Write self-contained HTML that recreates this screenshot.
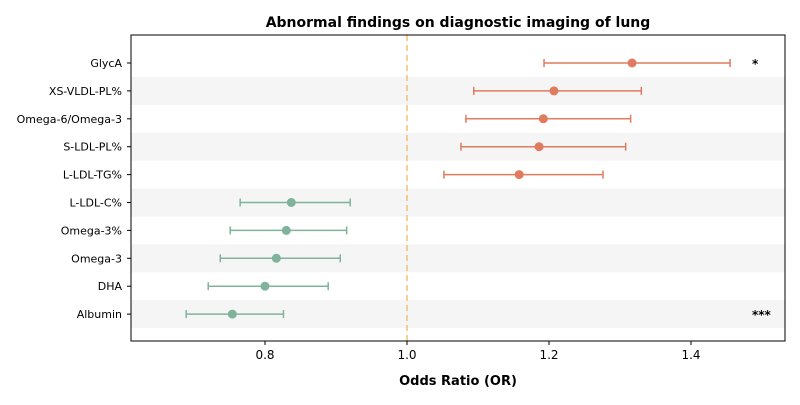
<!DOCTYPE html>
<html><head><meta charset="utf-8"><style>
body{margin:0;background:#fff;font-family:"Liberation Sans","DejaVu Sans",sans-serif}
svg text{font-family:"DejaVu Sans","Liberation Sans",sans-serif}
</style></head><body>
<svg id="c" width="800" height="400" xmlns="http://www.w3.org/2000/svg"></svg>
<script>
const labels=["GlycA","XS-VLDL-PL%","Omega-6/Omega-3","S-LDL-PL%","L-LDL-TG%","L-LDL-C%","Omega-3%","Omega-3","DHA","Albumin"];
const orVals=[1.317,1.207,1.192,1.186,1.158,0.837,0.830,0.816,0.800,0.754];
const ciLow=[1.193,1.094,1.083,1.076,1.052,0.765,0.751,0.737,0.720,0.689];
const ciHigh=[1.455,1.330,1.315,1.308,1.276,0.920,0.915,0.906,0.889,0.826];
const sig=["*","","","","","","","","","***"];
const xTicks=[0.8,1.0,1.2,1.4];
const L=131,R=785,T=35,B=341;
const x=v=>407+(v-1)*710;
const y=i=>63+i*27.9;
const s=document.getElementById('c');
const NS="http://www.w3.org/2000/svg";
function mk(t,a,txt){const e=document.createElementNS(NS,t);for(const k in a)e.setAttribute(k,a[k]);if(txt!==undefined)e.textContent=txt;s.appendChild(e);return e;}
let e;
labels.forEach((l,i)=>{if(i%2===1){e=mk('rect',{x:L,y:y(i)-14,width:R-L,height:28,fill:'#f5f5f5'});

}});
e=mk('line',{x1:x(1),x2:x(1),y1:T,y2:B,stroke:'#f5c06e','stroke-width':1.5,'stroke-dasharray':'6,4'});


labels.forEach((l,i)=>{
 const c=orVals[i]>1?'#e07b5f':'#7fb39b';const yy=y(i);
 e=mk('line',{x1:x(ciLow[i]),x2:x(ciHigh[i]),y1:yy,y2:yy,stroke:c,'stroke-width':1.5});
 
 
 [ciLow[i],ciHigh[i]].forEach(v=>{e=mk('line',{x1:x(v),x2:x(v),y1:yy-4,y2:yy+4,stroke:c,'stroke-width':1.5});
 
 });
 e=mk('circle',{cx:x(orVals[i]),cy:yy,r:4.5,fill:c});
 
 
 e=mk('text',{x:L-9,y:yy+4,'text-anchor':'end','font-size':11,fill:'#000'},l);
 
 
 mk('line',{x1:L-4,x2:L,y1:yy,y2:yy,stroke:'#000'});
 if(sig[i]){e=mk('text',{x:752,y:yy+5,'font-size':12,'font-weight':'bold'},sig[i]);
 
 }
});
e=mk('rect',{x:L,y:T,width:R-L,height:B-T,fill:'none',stroke:'#000','stroke-width':1});


xTicks.forEach(t=>{mk('line',{x1:x(t),x2:x(t),y1:B,y2:B+4,stroke:'#000'});
 e=mk('text',{x:x(t),y:B+18,'text-anchor':'middle','font-size':12},t.toFixed(1));
 
 });
e=mk('text',{x:458,y:385,'text-anchor':'middle','font-size':13,'font-weight':'bold'},'Odds Ratio (OR)');


e=mk('text',{x:458,y:27,'text-anchor':'middle','font-size':14,'font-weight':'bold'},'Abnormal findings on diagnostic imaging of lung');


</script>
</body></html>
